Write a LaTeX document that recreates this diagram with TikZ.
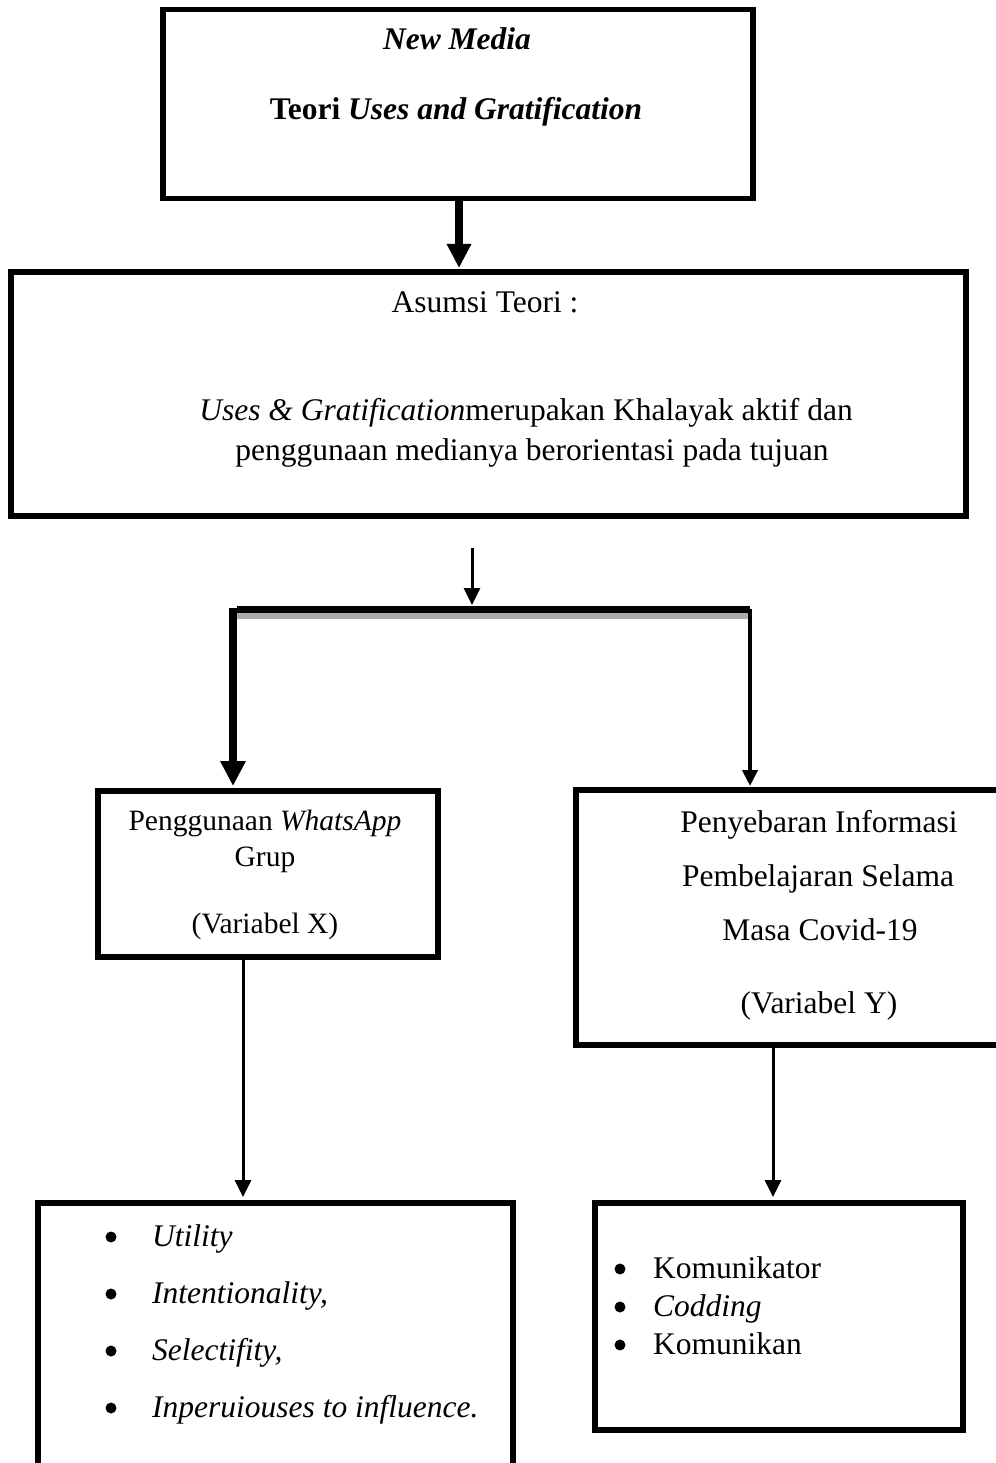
\documentclass[tikz,border=0pt]{standalone}
\usepackage{fontspec}
\setmainfont{Liberation Serif}
\usetikzlibrary{arrows.meta}
\tikzset{
  boxline/.style={draw=black, line width=5.5pt, anchor=north west, inner sep=0pt},
  txt/.style={anchor=base, inner sep=0pt, font=\fontsize{31.5}{38}\selectfont},
  ltxt/.style={anchor=base west, inner sep=0pt, font=\fontsize{31.5}{38}\selectfont},
  stxt/.style={anchor=base, inner sep=0pt, font=\fontsize{29.5}{36}\selectfont},
  bulletdot/.style={circle, fill=black, inner sep=0pt, minimum size=11pt},
  bigarrow/.style={line width=8pt, -{Triangle[width=23pt,length=24pt]}},
  thinarrow/.style={line width=3pt, -{Triangle[width=16pt,length=17pt]}},
}
\begin{document}
\begin{tikzpicture}[x=1pt,y=-1pt]
\useasboundingbox (0,0) rectangle (995,1463);
% boxes
\node[boxline, minimum width=590pt, minimum height=189pt] (top) at (160,7) {};
\node[boxline, minimum width=955pt, minimum height=244pt] (asumsi) at (8,269) {};
\node[boxline, minimum width=340pt, minimum height=166pt] (bx) at (95,788) {};
\node[boxline, minimum width=430pt, minimum height=255pt] (by) at (573,787) {};
\node[boxline, minimum width=475pt, minimum height=300pt] (bl) at (35,1200) {};
\node[boxline, minimum width=368pt, minimum height=227pt] (br) at (592,1200) {};
% texts
\node[txt] (t1) at (457,50) {\bfseries\itshape New Media};
\node[txt] (t2) at (456,120) {\bfseries Teori \itshape Uses and Gratification};
\node[txt] (a1) at (485,312) {Asumsi Teori :};
\node[txt] (a2) at (526,420) {\itshape Uses \& Gratification\upshape merupakan Khalayak aktif dan};
\node[txt] (a3) at (532,460) {penggunaan medianya berorientasi pada tujuan};
\node[stxt] (x1) at (265,830) {Penggunaan \itshape WhatsApp};
\node[stxt] (x2) at (265,866) {Grup};
\node[stxt] (x3) at (265,933) {(Variabel X)};
\node[txt] (y1) at (819,832) {Penyebaran Informasi};
\node[txt] (y2) at (818,886) {Pembelajaran Selama};
\node[txt] (y3) at (820,940) {Masa Covid-19};
\node[txt] (y4) at (819,1013) {(Variabel Y)};
% left list
\foreach \yy/\tt [count=\i] in {1246/Utility, 1303/{Intentionality,}, 1360/{Selectifity,}, 1417/{Inperuiouses to influence.}}{
  \node[bulletdot] (lb\i) at (111,\yy-9) {};
  \node[ltxt] (lt\i) at (152,\yy) {\itshape \tt};
}
% right list
\node[bulletdot] (rb1) at (620,1269) {};
\node[ltxt] (rt1) at (653,1278) {Komunikator};
\node[bulletdot] (rb2) at (620,1307) {};
\node[ltxt] (rt2) at (653,1316) {\itshape Codding};
\node[bulletdot] (rb3) at (620,1345) {};
\node[ltxt] (rt3) at (653,1354) {Komunikan};
% connectors
\coordinate (a1s) at (459,199);
\coordinate (a1e) at (459,268);
\draw[bigarrow] (a1s) -- (a1e);
\coordinate (c0) at (472,548);
\coordinate (c1) at (472,605);
\draw[thinarrow] (c0) -- (c1);
\coordinate (hl) at (237,609.5);
\coordinate (hr) at (750,609.5);
\draw[gray!65, line width=6pt] (237,616) -- (748,616);
\draw[line width=7pt] (hl) -- (hr);
\coordinate (ls) at (233,608);
\coordinate (le) at (233,786);
\draw[line width=8pt, -{Triangle[width=24pt,length=25pt]}] (ls) -- (le);
\coordinate (rs) at (750,609);
\coordinate (re) at (750,786);
\draw[line width=4pt, -{Triangle[width=15pt,length=16pt]}] (rs) -- (re);
\coordinate (xs) at (243,957);
\coordinate (xe) at (243,1197);
\draw[thinarrow] (xs) -- (xe);
\coordinate (ys) at (773,1046);
\coordinate (ye) at (773,1197);
\draw[thinarrow] (ys) -- (ye);
\end{tikzpicture}
\end{document}
